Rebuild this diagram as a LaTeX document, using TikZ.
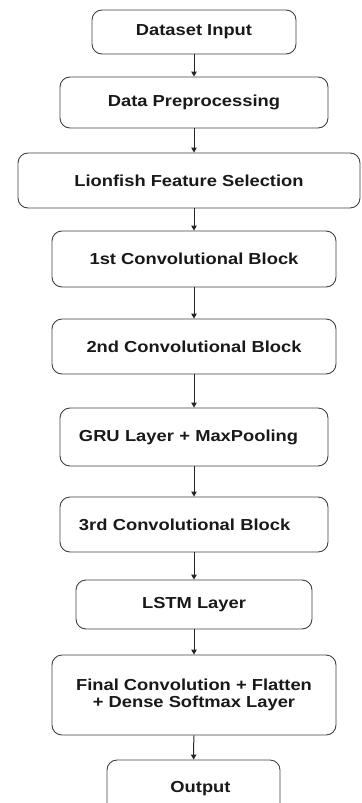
\documentclass[tikz,border=0pt]{standalone}
\usepackage{fontspec}
\setmainfont{Liberation Sans}[FakeStretch=1.15]
\usetikzlibrary{arrows.meta}

\begin{document}
\begin{tikzpicture}[x=1bp, y=-1bp, font=\fontsize{16}{17}\selectfont\bfseries,
  blk/.style={draw=black!75, line width=0.9bp, rounded corners=10bp, inner sep=0pt, align=center, text=black!90},
  lblk/.style={blk, align=left, text width=230bp, inner xsep=19bp},
  flow/.style={-{Triangle[length=5bp, width=5.5bp]}, line width=1bp, black!85}]
\useasboundingbox (0,0) rectangle (361,803);
\node[blk, minimum width=204bp, minimum height=44bp] (inp) at (194,32) {Dataset Input};
\node[blk, minimum width=268bp, minimum height=51bp] (prep) at (194,102.5) {Data Preprocessing};
\node[blk, minimum width=342bp, minimum height=55bp] (lfs) at (189,180.5) {Lionfish Feature Selection};
\node[blk, minimum width=284bp, minimum height=56bp] (conv1) at (194,259) {1st Convolutional Block};
\node[blk, minimum width=284bp, minimum height=55bp] (conv2) at (194,346.5) {2nd Convolutional Block};
\node[lblk, minimum height=58bp] (gru) at (194,437) {GRU Layer + MaxPooling};
\node[lblk, minimum height=55bp] (conv3) at (194,524.5) {3rd Convolutional Block};
\node[blk, minimum width=236bp, minimum height=49bp] (lstm) at (194,604.5) {LSTM Layer};
\node[blk, minimum width=284bp, minimum height=80bp] (fin) at (194,695) {Final Convolution + Flatten\\+ Dense Softmax Layer};
\node[blk, minimum width=173bp, minimum height=58bp] (out) at (193.5,789) {\hspace{14bp}Output};
\draw[flow] (inp) -- (prep);
\draw[flow] (prep) -- (prep.south |- lfs.north);
\draw[flow] (conv1.north |- lfs.south) -- (conv1);
\draw[flow] (conv1) -- (conv2);
\draw[flow] (conv2) -- (gru);
\draw[flow] (gru) -- (conv3);
\draw[flow] (conv3) -- (lstm);
\draw[flow] (lstm) -- (fin);
\draw[flow] (fin) -- (out);
\end{tikzpicture}
\end{document}
